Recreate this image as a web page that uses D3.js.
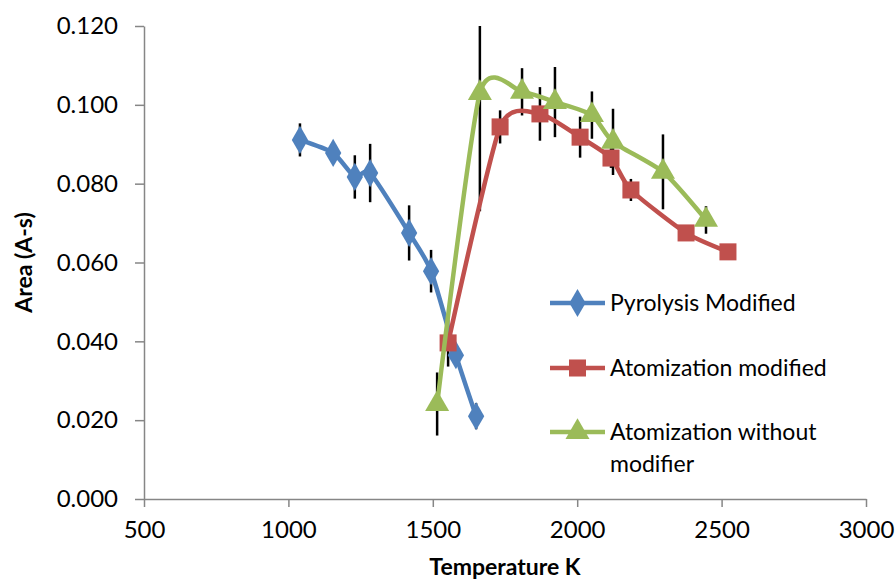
<!DOCTYPE html>
<html>
<head>
<meta charset="utf-8">
<script src="https://cdn.jsdelivr.net/npm/d3@7"></script>
<style>
  body { margin: 0; background: #fff; }
  text { font-family: Lato, "Open Sans", sans-serif; fill: #000; }
  .axis path, .axis line { stroke: #868686; stroke-width: 1.5; }
</style>
</head>
<body>
<script>
// Width and height
var w = 895;
var h = 581;

// Data
var seriesNames = ["Pyrolysis Modified", "Atomization modified", "Atomization without modifier"];
var pyroTemp = [1040, 1155, 1230, 1283, 1418, 1494, 1580, 1650];
var pyroArea = [0.0911, 0.0878, 0.0817, 0.0827, 0.0675, 0.0578, 0.0365, 0.0210];
var pyroErr  = [0.0042, 0.0025, 0.0055, 0.0074, 0.0070, 0.0054, 0.0025, 0.0033];
var atomTemp = [1553, 1733, 1871, 2010, 2117, 2186, 2377, 2522];
var atomArea = [0.0396, 0.0944, 0.0977, 0.0918, 0.0865, 0.0784, 0.0675, 0.0627];
var atomErr  = [0.0060, 0.0042, 0.0068, 0.0052, 0.0025, 0.0028, 0.0020, 0.0020];
var noModTemp = [1515, 1663, 1809, 1923, 2051, 2124, 2297, 2446];
var noModArea = [0.0241, 0.1030, 0.1033, 0.1007, 0.0974, 0.0906, 0.0830, 0.0708];
var noModErr  = [0.0080, 0.0300, 0.0060, 0.0089, 0.0060, 0.0084, 0.0095, 0.0035];
var xTicks = [500, 1000, 1500, 2000, 2500, 3000];
var yTicks = [0, 0.02, 0.04, 0.06, 0.08, 0.10, 0.12];

var colors = ["#4F81BD", "#C0504D", "#9BBB59"];
var symbols = [d3.symbolDiamond, d3.symbolSquare, d3.symbolTriangle];
var symSize = [230, 290, 250];

function zip(xs, ys, es) {
  return xs.map(function(x, i) { return {t: x, a: ys[i], e: es[i]}; });
}
var series = [
  zip(pyroTemp, pyroArea, pyroErr),
  zip(atomTemp, atomArea, atomErr),
  zip(noModTemp, noModArea, noModErr)
];

// Scales
var xScale = d3.scaleLinear().domain([500, 3000]).range([144, 866]);
var yScale = d3.scaleLinear().domain([0, 0.12]).range([499, 26]);

var svg = d3.select("body").append("svg")
    .attr("width", w)
    .attr("height", h);

svg.append("defs").append("clipPath")
    .attr("id", "plot")
  .append("rect")
    .attr("x", 144).attr("y", 26)
    .attr("width", 722).attr("height", 473);

// Axes
var xAxis = d3.axisBottom(xScale).tickValues(xTicks).tickSize(8).tickPadding(14)
    .tickSizeOuter(0)
    .tickFormat(d3.format("d"));
var yAxis = d3.axisLeft(yScale).tickValues(yTicks).tickSize(9).tickPadding(17)
    .tickSizeOuter(0)
    .tickFormat(d3.format(".3f"));

svg.append("g")
    .attr("class", "axis")
    .attr("transform", "translate(0," + yScale(0) + ")")
    .call(xAxis)
    .call(function(g) { g.selectAll("text").style("font-size", "24px"); });

svg.append("g")
    .attr("class", "axis")
    .attr("transform", "translate(" + xScale(500) + ",0)")
    .call(yAxis)
    .call(function(g) { g.selectAll("text").style("font-size", "24px"); });

// Axis titles
svg.append("text")
    .attr("x", (xScale(500) + xScale(3000)) / 2)
    .attr("y", 575)
    .style("text-anchor", "middle")
    .style("font-weight", "bold")
    .style("font-size", "23px")
    .text("Temperature K");

svg.append("text")
    .attr("transform", "rotate(-90)")
    .attr("x", -(yScale(0) + yScale(0.12)) / 2)
    .attr("y", 32)
    .style("text-anchor", "middle")
    .style("font-weight", "bold")
    .style("font-size", "23px")
    .text("Area (A-s)");

// Error bars
var plot = svg.append("g").attr("clip-path", "url(#plot)");
series.forEach(function(s) {
  plot.selectAll(null)
      .data(s)
      .enter().append("line")
      .attr("x1", function(d) { return xScale(d.t); })
      .attr("x2", function(d) { return xScale(d.t); })
      .attr("y1", function(d) { return yScale(d.a + d.e); })
      .attr("y2", function(d) { return yScale(d.a - d.e); })
      .style("stroke", "#000")
      .style("stroke-width", 2.5);
});

// Smoothed lines
var line = d3.line()
    .curve(d3.curveCardinal.tension(0.35))
    .x(function(d) { return xScale(d.t); })
    .y(function(d) { return yScale(d.a); });

series.forEach(function(s, k) {
  var g = svg.append("g");
  g.append("path")
      .attr("d", line(s))
      .style("fill", "none")
      .style("stroke", colors[k])
      .style("stroke-width", 4.5);
  g.selectAll("path.mark")
      .data(s)
      .enter().append("path")
      .attr("class", "mark")
      .attr("transform", function(d) { return "translate(" + xScale(d.t) + "," + yScale(d.a) + ")"; })
      .attr("d", d3.symbol().type(symbols[k]).size(symSize[k]))
      .style("fill", colors[k]);
});

// Legend
var legendY = [303, 368, 432];
var legend = svg.selectAll(".legend")
    .data(seriesNames)
    .enter().append("g")
    .attr("class", "legend")
    .attr("transform", function(d, i) { return "translate(550," + legendY[i] + ")"; });

legend.append("line")
    .attr("x1", 0).attr("x2", 55)
    .style("stroke", function(d, i) { return colors[i]; })
    .style("stroke-width", 4.5);

legend.append("path")
    .attr("transform", "translate(27.5,0)")
    .attr("d", function(d, i) { return d3.symbol().type(symbols[i]).size(symSize[i])(); })
    .style("fill", function(d, i) { return colors[i]; });

legend.append("text")
    .attr("x", 60)
    .attr("dy", "0.35em")
    .style("font-size", "23px")
    .each(function(d, i) {
      var t = d3.select(this);
      if (i === 2) {
        t.append("tspan").attr("x", 60).text("Atomization without");
        t.append("tspan").attr("x", 60).attr("dy", "1.4em").text("modifier");
      } else {
        t.text(d);
      }
    });
</script>
</body>
</html>
